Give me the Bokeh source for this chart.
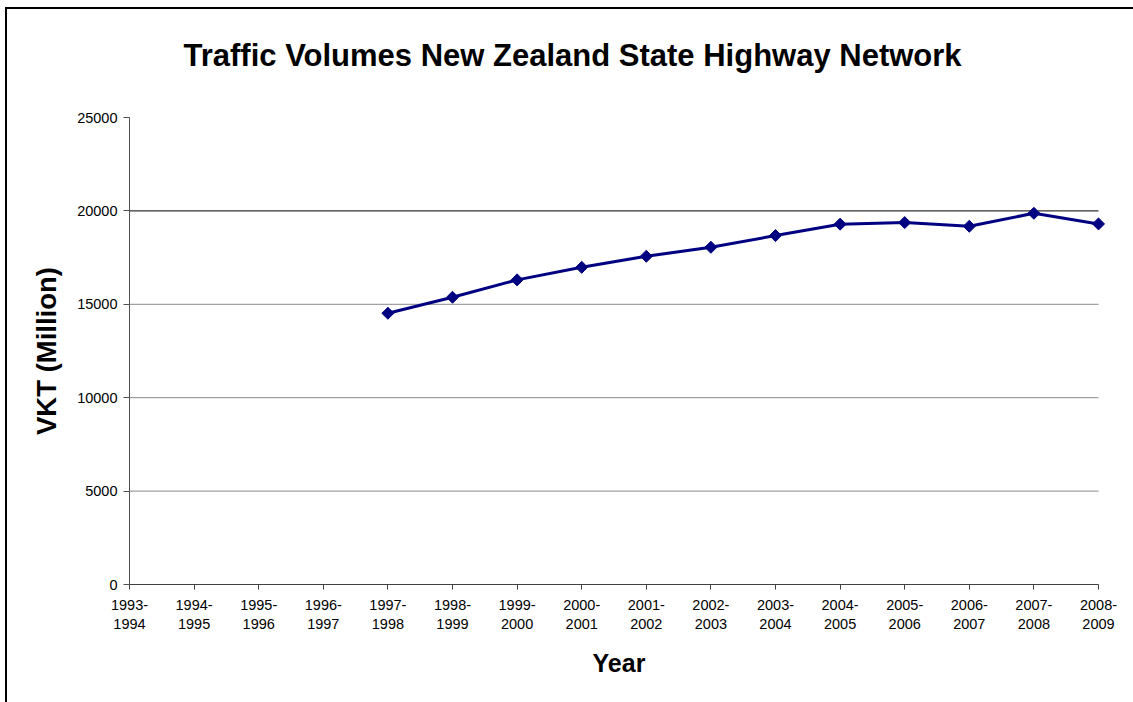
from math import pi

from bokeh.plotting import figure
from bokeh.models import FixedTicker, Range1d, ColumnDataSource, Title
from bokeh.embed import file_html
from bokeh.resources import INLINE

# Financial years shown on the category axis
categories = [
    "1993-1994", "1994-1995", "1995-1996", "1996-1997", "1997-1998",
    "1998-1999", "1999-2000", "2000-2001", "2001-2002", "2002-2003",
    "2003-2004", "2004-2005", "2005-2006", "2006-2007", "2007-2008",
    "2008-2009",
]

# Years with recorded vehicle kilometres travelled (million)
years = [
    "1997-1998", "1998-1999", "1999-2000", "2000-2001", "2001-2002",
    "2002-2003", "2003-2004", "2004-2005", "2005-2006", "2006-2007",
    "2007-2008", "2008-2009",
]
vkt = [14520, 15376, 16307, 16981, 17570, 18052, 18678, 19290, 19374, 19176, 19872, 19304]

y_ticks = [0, 5000, 10000, 15000, 20000, 25000]
grid_dark = [20000]
grid_soft = [5000, 10000, 15000]

FONT = "Liberation Sans"
OFF_X = 5       # page offset of the chart-area border line
LIFT = 24       # canvas rows hidden above the page, giving the title room
FIG_W = 1140    # chart area runs on past the right edge of the page
VISIBLE_H = 702
FRAME_RIGHT = 1108
n_last = len(categories) - 1

src = ColumnDataSource(data=dict(x=[categories.index(y) for y in years], vkt=vkt, year=years))

# a little extra room right of the last category so its marker is not cut
x_pad = 10 / 64.6

p = figure(
    width=FIG_W, height=VISIBLE_H + LIFT,
    output_backend="svg", toolbar_location=None,
    x_range=Range1d(0, n_last + x_pad),
    y_range=Range1d(0, 25000),
    min_border_left=129 - OFF_X, min_border_right=OFF_X + FIG_W - FRAME_RIGHT,
    min_border_top=117 + LIFT, min_border_bottom=VISIBLE_H - 584,
    title=None,
)
p.outline_line_color = None
p.background_fill_color = "white"
p.border_fill_color = None
p.xgrid.visible = False
p.ygrid.visible = False

# horizontal gridlines spanning the category extent
p.segment(x0=[0] * len(grid_soft), x1=[n_last] * len(grid_soft), y0=grid_soft, y1=grid_soft,
          line_color="#8a8a8a", line_width=1)
p.segment(x0=[0], x1=[n_last], y0=grid_dark, y1=grid_dark, line_color="black", line_width=1)

# x axis: year categories, labels split over two lines
xa = p.xaxis[0]
xa.bounds = (0, n_last)
xa.ticker = FixedTicker(ticks=list(range(len(categories))))
xa.major_label_overrides = {i: c.replace("-", "-\n") for i, c in enumerate(categories)}
xa.minor_tick_line_color = None
xa.major_tick_in = 0
xa.major_tick_out = 5
xa.axis_line_color = "#404040"
xa.major_tick_line_color = "#404040"
xa.major_label_text_font = FONT
xa.major_label_text_font_size = "14.5px"
xa.major_label_text_color = "black"
xa.major_label_standoff = 7
xa.axis_label = "Year"
xa.axis_label_text_font = FONT
xa.axis_label_text_font_style = "bold"
xa.axis_label_text_font_size = "25px"
xa.axis_label_text_color = "black"
xa.axis_label_standoff = 14

ya = p.yaxis[0]
ya.ticker = FixedTicker(ticks=y_ticks)
ya.minor_tick_line_color = None
ya.major_tick_in = 0
ya.major_tick_out = 6
ya.axis_line_color = "#505050"
ya.major_tick_line_color = "#505050"
ya.major_label_text_font = FONT
ya.major_label_text_font_size = "14.5px"
ya.major_label_text_color = "black"
ya.major_label_standoff = 6
ya.axis_label = "VKT (Million)"
ya.axis_label_text_font = FONT
ya.axis_label_text_font_style = "bold"
ya.axis_label_text_font_size = "27.5px"
ya.axis_label_text_color = "black"
ya.axis_label_standoff = 12

p.line("x", "vkt", source=src, line_color="#000080", line_width=3)
p.scatter("x", "vkt", source=src, marker="square", size=8.5, angle=pi / 4,
          fill_color="#000080", line_color="#000080")

# chart title
title = Title(
    text="Traffic Volumes New Zealand State Highway Network",
    text_font=FONT, text_font_style="bold", text_font_size="31px",
    text_color="black", align="left", offset=54, standoff=90,
)
p.add_layout(title, "above")

# chart-area border on the left and top edges, painted inside the figure box
top = 7 + LIFT
p.styles = {
    "margin-left": f"{OFF_X}px",
    "margin-top": f"-{LIFT}px",
    "box-shadow": (f"inset 0 {top}px 0 0 white, inset 0 {top + 2}px 0 0 black, "
                   "inset 2px 0 0 0 black"),
}

open("out.html", "w").write(file_html(p, INLINE))
